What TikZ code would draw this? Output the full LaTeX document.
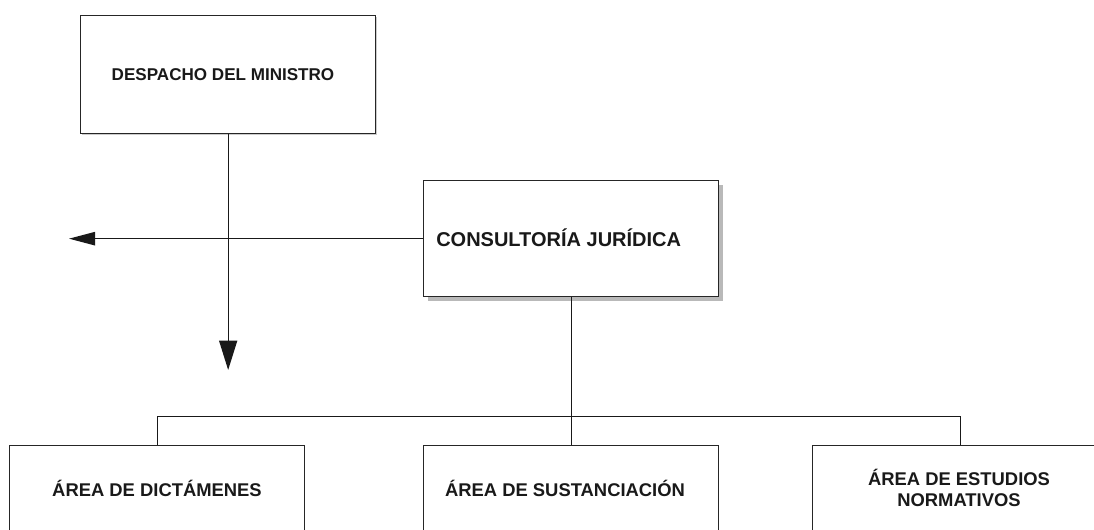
\documentclass[tikz,border=0pt]{standalone}
\usepackage{fontspec}
\setmainfont{Liberation Sans}
\usetikzlibrary{arrows.meta,shadows}
\tikzset{
  box/.style={draw=black!85, line width=1pt, fill=white, minimum width=221.25pt, inner sep=0pt, anchor=north west},
  lbl/.style={font=\bfseries, inner sep=0pt, text=black!90},
  conn/.style={draw=black!90, line width=1pt},
}
\begin{document}
\begin{tikzpicture}[x=0.75pt,y=-0.75pt]
\useasboundingbox (0,0) rectangle (1094,529);
\clip (0,0) rectangle (1094,529);
% boxes
\node[box, minimum height=88.5pt, drop shadow={shadow xshift=0.8pt, shadow yshift=-0.8pt, fill=gray!40, opacity=1}] (desp) at (80,15) {};
\node[box, minimum height=87pt, drop shadow={shadow xshift=3pt, shadow yshift=-3.5pt, fill=gray!55, opacity=1}] (cons) at (423,180) {};
\node[box, minimum height=88.5pt] (dict) at (9,445) {};
\node[box, minimum height=88.5pt] (sust) at (423,445) {};
\node[box, minimum height=88.5pt] (estu) at (812,445) {};
% texts
\node[lbl, font=\bfseries\fontsize{12.8}{14}\selectfont] (tdesp) at (223,75) {DESPACHO DEL MINISTRO};
\node[lbl, font=\bfseries\fontsize{15}{17}\selectfont, anchor=west] (tcons) at (436,238) {CONSULTORÍA JURÍDICA};
\node[lbl, font=\bfseries\fontsize{13.8}{15}\selectfont] (tdict) at (157,488) {ÁREA DE DICTÁMENES};
\node[lbl, font=\bfseries\fontsize{13.8}{15}\selectfont] (tsust) at (565,488) {ÁREA DE SUSTANCIACIÓN};
\node[lbl, font=\bfseries\fontsize{13.8}{15.75}\selectfont, align=center] (testu) at (959,487.5) {ÁREA DE ESTUDIOS\\NORMATIVOS};
% connectors
\coordinate (downend) at (228,370);
\coordinate (leftend) at (69,238);
\path (cons.south) ++(0,119) coordinate (bus);
\draw[conn, -{Triangle[length=22pt,width=13.5pt]}] (desp.south) -- (desp.south |- downend);
\draw[conn, -{Triangle[length=19.5pt,width=10pt]}] (cons.west) -- (cons.west -| leftend);
\draw[conn] (cons.south) -- (bus);
\draw[conn] (dict.north) |- (bus) -| (estu.north);
\draw[conn] (bus) -- (sust.north);
\end{tikzpicture}
\end{document}
